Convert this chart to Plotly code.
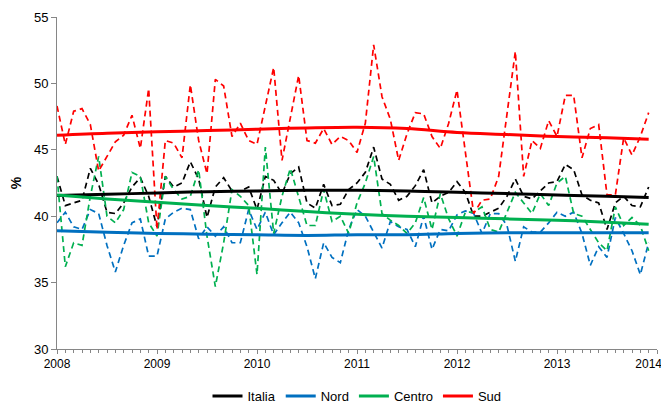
import plotly.graph_objects as go

# Monthly values, Jan 2008 .. Dec 2013 (72 months)
start_year = 2008
italia = [43.0, 40.8, 41.0, 41.2, 43.6, 42.4, 40.3, 40.2, 41.0, 42.2, 42.9, 41.5,
          39.2, 43.0, 42.2, 42.5, 44.1, 42.8, 39.9, 42.2, 42.9, 41.9, 41.9, 42.2,
          40.5, 43.0, 42.7, 41.7, 43.2, 43.7, 41.0, 40.6, 42.4, 40.8, 40.9, 42.0,
          42.5, 43.3, 45.2, 42.8, 42.4, 41.2, 41.5, 42.3, 43.5, 41.0, 41.5, 41.8,
          42.6, 41.8, 40.0, 40.0, 40.3, 40.6, 41.5, 42.8, 41.5, 41.3, 41.9, 42.5,
          42.6, 43.9, 43.5, 41.6, 41.2, 41.0, 39.0, 41.0, 41.5, 40.8, 40.7, 42.2]
nord = [39.5, 40.3, 39.2, 39.0, 40.5, 40.2, 37.8, 35.8, 37.8, 39.5, 39.8, 37.0,
        37.0, 39.8, 40.3, 40.6, 40.5, 38.3, 39.2, 38.5, 39.2, 38.0, 38.0, 40.5,
        39.0, 40.3, 38.6, 39.5, 40.3, 39.5, 37.7, 35.3, 38.0, 36.9, 36.5, 39.0,
        40.5, 40.0, 38.8, 37.6, 39.6, 39.2, 39.0, 37.7, 40.0, 37.5, 39.0, 38.9,
        40.1, 40.4, 40.2, 38.7, 40.2, 40.2, 39.3, 36.6, 39.2, 38.8, 38.8, 39.5,
        40.3, 40.0, 40.3, 38.7, 36.3, 37.7, 36.9, 39.9, 38.7, 37.4, 35.6, 38.0]
centro = [43.0, 36.2, 38.0, 37.8, 41.5, 44.5, 40.0, 39.5, 40.5, 43.3, 43.0, 39.5,
          38.5, 43.0, 42.0, 41.3, 41.5, 43.5, 38.5, 34.7, 38.0, 42.0, 41.5, 40.8,
          35.6, 45.2, 38.7, 41.5, 43.6, 41.5, 39.3, 39.3, 42.0, 39.6, 40.0, 38.7,
          41.0, 42.5, 44.5, 40.2, 39.7, 39.3, 38.7, 39.5, 41.4, 39.0, 41.7, 39.8,
          38.5, 40.3, 40.3, 40.7, 39.0, 38.8, 40.3, 41.8, 41.0, 40.2, 41.7, 40.8,
          42.5, 43.0, 40.2, 40.0, 39.0, 38.0, 37.4, 40.7, 39.3, 39.9, 39.3, 37.4]
sud = [48.3, 45.4, 47.9, 48.1, 46.9, 43.4, 44.5, 45.6, 46.1, 47.6, 45.1, 49.6,
       39.0, 45.7, 45.5, 44.4, 49.9, 45.7, 43.2, 50.3, 49.8, 46.0, 47.0, 45.7,
       45.4, 48.3, 51.2, 44.2, 47.5, 50.6, 45.7, 45.5, 46.6, 45.4, 46.0, 45.7,
       44.8, 47.0, 52.9, 49.0, 47.3, 44.2, 46.2, 47.8, 47.7, 46.0, 45.1, 47.0,
       49.5, 45.0, 40.2, 41.2, 41.3, 43.0, 47.5, 52.4, 43.0, 45.7, 45.1, 47.2,
       46.0, 49.1, 49.1, 44.4, 46.6, 46.9, 41.6, 41.6, 45.9, 44.6, 46.0, 47.8]

# Trend values at month indices
trend_months = [0, 6, 12, 18, 24, 30, 36, 42, 48, 54, 60, 66, 71]
italia_trend = [41.55, 41.65, 41.75, 41.85, 41.9, 41.95, 41.95, 41.9, 41.8, 41.7, 41.6, 41.5, 41.4]
nord_trend = [38.9, 38.8, 38.7, 38.65, 38.6, 38.55, 38.6, 38.6, 38.7, 38.75, 38.75, 38.75, 38.75]
centro_trend = [41.6, 41.3, 41.05, 40.8, 40.6, 40.35, 40.15, 40.0, 39.9, 39.8, 39.7, 39.55, 39.4]
sud_trend = [46.1, 46.25, 46.35, 46.45, 46.55, 46.65, 46.7, 46.6, 46.3, 46.15, 46.0, 45.9, 45.8]

year_ticks = [2008, 2009, 2010, 2011, 2012, 2013, 2014]
year_labels = ["2008", "2009", "2010", "2011", "2012", "2013", "2014"]
y_ticks = [30, 35, 40, 45, 50, 55]

names = ["Italia", "Nord", "Centro", "Sud"]
colors = ["#000000", "#0070C0", "#00B050", "#FF0000"]
monthly = [italia, nord, centro, sud]
trends = [italia_trend, nord_trend, centro_trend, sud_trend]

x_month = [start_year + i / 12 for i in range(72)]
x_trend = [start_year + m / 12 for m in trend_months]

# keep the last year label inside the visible page (padding with no-break spaces)
tick_text = year_labels[:-1] + [year_labels[-1] + "\u00a0" * 5]

fig = go.Figure()
for name, col, vals in zip(names, colors, monthly):
    fig.add_trace(go.Scatter(x=x_month, y=vals, mode="lines", showlegend=False,
                             line=dict(color=col, width=1.7, dash="6px,4px"),
                             hoverinfo="skip"))
for name, col, vals in zip(names, colors, trends):
    fig.add_trace(go.Scatter(x=x_trend, y=vals, mode="lines", name=name,
                             line=dict(color=col, width=3, shape="spline")))

# The page body adds an 8px margin on each side, so the figure fits inside it
fig.update_layout(
    width=653, height=398,
    margin=dict(l=49, r=4, t=9, b=57, autoexpand=False),
    plot_bgcolor="white", paper_bgcolor="white",
    font=dict(family="Liberation Sans", size=12, color="#000000"),
    legend=dict(orientation="h", x=0.5, xanchor="center",
                yref="container", y=0.025, yanchor="middle",
                font=dict(size=13), itemwidth=30, tracegroupgap=0),
    xaxis=dict(range=[2008, 2014], tickmode="array", tickvals=year_ticks,
               ticktext=tick_text, automargin=False,
               ticklabeloverflow="allow",
               showgrid=False, zeroline=False, showline=True, linecolor="#868686",
               ticks="outside", ticklen=4, tickcolor="#868686",
               tickfont=dict(size=12),
               minor=dict(dtick=1/12, ticks="outside", ticklen=3, tickcolor="#868686")),
    yaxis=dict(range=[30, 55], tickmode="array", tickvals=y_ticks, automargin=False,
               showgrid=False, zeroline=False, showline=True, linecolor="#868686",
               ticks="outside", ticklen=5, tickcolor="#868686",
               tickfont=dict(size=13),
               title=dict(text="<b>%</b>", font=dict(size=14), standoff=10)),
)

fig.write_html("out.html")
